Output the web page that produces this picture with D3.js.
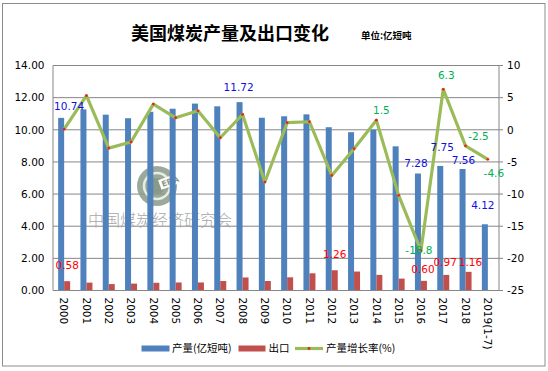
<!DOCTYPE html>
<html>
<head>
<meta charset="utf-8">
<script src="https://cdn.jsdelivr.net/npm/d3@7"></script>
<style>
  body { margin: 0; background: #fff; }
  text { font-family: "DejaVu Sans", sans-serif; }
  .cjk { font-family: "Noto Sans CJK SC", sans-serif; }
</style>
</head>
<body>
<div id="chart"></div>
<script>
// data
const years = ['2000', '2001', '2002', '2003', '2004', '2005', '2006', '2007', '2008', '2009',
    '2010', '2011', '2012', '2013', '2014', '2015', '2016', '2017', '2018', '2019(1-7)'];
const output = [10.74, 11.27, 10.94, 10.72, 11.12, 11.31, 11.63, 11.46, 11.72, 10.75,
    10.84, 10.96, 10.16, 9.85, 10.00, 8.97, 7.28, 7.75, 7.56, 4.12];
const exports = [0.58, 0.49, 0.40, 0.43, 0.48, 0.50, 0.50, 0.59, 0.81, 0.59,
    0.82, 1.07, 1.26, 1.18, 0.97, 0.74, 0.60, 0.97, 1.16, null];
const growth = [0.1, 5.3, -2.85, -1.9, 4.0, 1.87, 2.95, -1.24, 2.38, -8.13,
    1.1, 1.25, -7.1, -2.95, 1.5, -10.2, -18.8, 6.3, -2.5, -4.6];
const leftTicks = [0, 2, 4, 6, 8, 10, 12, 14];
const rightTicks = [-25, -20, -15, -10, -5, 0, 5, 10];

// which points get a data label
const outputLabels = ['2000', '2008', '2016', '2017', '2018', '2019(1-7)'];
const exportLabels = ['2000', '2012', '2016', '2017', '2018'];
const growthLabels = ['2014', '2016', '2017', '2018', '2019(1-7)'];

// hand-placed label nudges, like in the original
const outputNudge = {'2000': [5, -12], '2008': [-4, -15], '2016': [-5, -10], '2017': [-1, -19], '2018': [-2, -9], '2019(1-7)': [-5, -19]};
const exportNudge = {'2000': [3, -16], '2012': [3, -16], '2016': [2, -12], '2017': [2, -13], '2018': [5, -10]};
const growthNudge = {'2014': [5, -10], '2016': [-2, 0], '2017': [3, -14], '2018': [13, -10], '2019(1-7)': [6, 14]};

const svgWidth = 548;
const svgHeight = 371;
const margin = {top: 65.5, right: 49, bottom: 80.5, left: 53};
const width = svgWidth - margin.left - margin.right;
const height = svgHeight - margin.top - margin.bottom;

const svg = d3.select('#chart')
    .append('svg')
    .attr('width', svgWidth)
    .attr('height', svgHeight);

// outer frame
svg.append('rect')
    .attr('x', 2.5).attr('y', 3.5)
    .attr('width', 542.5).attr('height', 362.5)
    .attr('fill', 'none')
    .attr('stroke', '#8c8c8c');

// title
svg.append('text')
    .attr('class', 'cjk')
    .attr('x', 230).attr('y', 40)
    .attr('text-anchor', 'middle')
    .attr('font-size', 18)
    .attr('font-weight', 700)
    .text('美国煤炭产量及出口变化');
svg.append('text')
    .attr('class', 'cjk')
    .attr('x', 361).attr('y', 39)
    .attr('font-size', 9.5)
    .attr('font-weight', 700)
    .text('单位:亿短吨');

const g = svg.append('g')
    .attr('transform', `translate(${margin.left}, ${margin.top})`);

const x = d3.scaleBand().domain(years).range([0, width]);
const yL = d3.scaleLinear().domain([0, 14]).range([height, 0]);
const yR = d3.scaleLinear().domain([-25, 10]).range([height, 0]);
const cx = d => x(d) + x.bandwidth() / 2;

// gridlines
g.selectAll('.grid')
    .data(leftTicks)
    .enter()
    .append('line')
    .attr('x1', 0).attr('x2', width)
    .attr('y1', d => yL(d)).attr('y2', d => yL(d))
    .attr('stroke', '#868686');

// watermark (sits behind the bars)
const wm = g.append('g').attr('transform', `translate(${157 - margin.left}, ${186 - margin.top})`);
wm.append('circle').attr('r', 20).attr('fill', '#8a9a88').attr('opacity', 0.85);
wm.append('circle').attr('r', 13).attr('fill', 'none').attr('stroke', '#e8ece6').attr('stroke-width', 2.5);
wm.append('circle').attr('r', 8).attr('fill', '#8a9a88');
wm.append('rect').attr('x', 3).attr('y', -5).attr('width', 20).attr('height', 10).attr('fill', '#fff').attr('transform', 'rotate(-20)');
wm.append('text')
    .attr('x', 5).attr('y', 3)
    .attr('font-size', 8).attr('font-weight', 700)
    .attr('fill', '#8a9a88')
    .attr('transform', 'rotate(-20)')
    .text('ERA');
g.append('text')
    .attr('class', 'cjk')
    .attr('x', 88 - margin.left).attr('y', 226 - margin.top)
    .attr('font-size', 16)
    .attr('fill', '#a8a8a8')
    .attr('font-weight', 300)
    .text('中国煤炭经济研究会');

// bars
g.selectAll('.outBar')
    .data(years)
    .enter()
    .append('rect')
    .attr('x', d => cx(d) - 6)
    .attr('y', (d, i) => yL(output[i]))
    .attr('width', 6)
    .attr('height', (d, i) => height - yL(output[i]))
    .attr('fill', '#4f81bd');

g.selectAll('.expBar')
    .data(years.filter((d, i) => exports[i] !== null))
    .enter()
    .append('rect')
    .attr('x', d => cx(d))
    .attr('y', d => yL(exports[years.indexOf(d)]))
    .attr('width', 6)
    .attr('height', d => height - yL(exports[years.indexOf(d)]))
    .attr('fill', '#c0504d');

// growth line
const line = d3.line()
    .x(d => cx(d))
    .y((d, i) => yR(growth[i]));
g.append('path')
    .datum(years)
    .attr('d', line)
    .attr('fill', 'none')
    .attr('stroke', '#9bbb59')
    .attr('stroke-width', 3.2)
    .attr('stroke-linejoin', 'round');
g.selectAll('.dot')
    .data(years)
    .enter()
    .append('circle')
    .attr('cx', d => cx(d))
    .attr('cy', (d, i) => yR(growth[i]))
    .attr('r', 1.4)
    .attr('fill', '#e8261b');

// axes lines
g.append('line').attr('x1', 0).attr('x2', 0).attr('y1', 0).attr('y2', height).attr('stroke', '#868686');
g.append('line').attr('x1', width).attr('x2', width).attr('y1', 0).attr('y2', height).attr('stroke', '#868686');
g.append('line').attr('x1', 0).attr('x2', width).attr('y1', height).attr('y2', height).attr('stroke', '#868686');

// tick labels
g.selectAll('.lt')
    .data(leftTicks)
    .enter()
    .append('text')
    .attr('x', -8.5)
    .attr('y', d => yL(d))
    .attr('dy', '0.36em')
    .attr('text-anchor', 'end')
    .attr('font-size', 10.5)
    .text(d => d.toFixed(2));

g.selectAll('.rt')
    .data(rightTicks)
    .enter()
    .append('text')
    .attr('x', 8)
    .attr('y', d => yR(d))
    .attr('transform', `translate(${width}, 0)`)
    .attr('dy', '0.36em')
    .attr('font-size', 10.5)
    .text(d => d);
g.selectAll('.rtick')
    .data(rightTicks)
    .enter()
    .append('line')
    .attr('x1', width).attr('x2', width + 4)
    .attr('y1', d => yR(d)).attr('y2', d => yR(d))
    .attr('stroke', '#868686');

g.selectAll('.xt')
    .data(years)
    .enter()
    .append('text')
    .attr('transform', d => `translate(${cx(d)}, ${height + 7}) rotate(90)`)
    .attr('dy', '0.36em')
    .attr('font-size', 10.5)
    .text(d => d);

// data labels
g.selectAll('.outLbl')
    .data(outputLabels)
    .enter()
    .append('text')
    .attr('x', d => cx(d) + outputNudge[d][0])
    .attr('y', d => yL(output[years.indexOf(d)]) + outputNudge[d][1])
    .attr('dy', '0.36em')
    .attr('text-anchor', 'middle')
    .attr('font-size', 10.5)
    .attr('fill', '#1010e0')
    .text(d => output[years.indexOf(d)].toFixed(2));

g.selectAll('.expLbl')
    .data(exportLabels)
    .enter()
    .append('text')
    .attr('x', d => cx(d) + exportNudge[d][0])
    .attr('y', d => yL(exports[years.indexOf(d)]) + exportNudge[d][1])
    .attr('dy', '0.36em')
    .attr('text-anchor', 'middle')
    .attr('font-size', 10.5)
    .attr('fill', '#ff0000')
    .text(d => exports[years.indexOf(d)].toFixed(2));

g.selectAll('.grLbl')
    .data(growthLabels)
    .enter()
    .append('text')
    .attr('x', d => cx(d) + growthNudge[d][0])
    .attr('y', d => yR(growth[years.indexOf(d)]) + growthNudge[d][1])
    .attr('dy', '0.36em')
    .attr('text-anchor', 'middle')
    .attr('font-size', 10.5)
    .attr('fill', '#00b050')
    .text(d => growth[years.indexOf(d)]);

// legend
const legend = svg.append('g').attr('transform', 'translate(0, 348.5)');
legend.append('rect').attr('x', 141.5).attr('y', -3).attr('width', 28).attr('height', 6).attr('fill', '#4f81bd');
legend.append('text').attr('class', 'cjk').attr('x', 172).attr('y', 0).attr('dy', '0.36em').attr('font-size', 10.5).text('产量(亿短吨)');
legend.append('rect').attr('x', 238.5).attr('y', -3).attr('width', 27).attr('height', 6).attr('fill', '#c0504d');
legend.append('text').attr('class', 'cjk').attr('x', 268.5).attr('y', 0).attr('dy', '0.36em').attr('font-size', 10.5).text('出口');
legend.append('line').attr('x1', 295).attr('x2', 323).attr('y1', 0).attr('y2', 0).attr('stroke', '#9bbb59').attr('stroke-width', 3.2);
legend.append('circle').attr('cx', 309).attr('cy', 0).attr('r', 1.4).attr('fill', '#e8261b');
legend.append('text').attr('class', 'cjk').attr('x', 326).attr('y', 0).attr('dy', '0.36em').attr('font-size', 10.5).text('产量增长率(%)');
</script>
</body>
</html>
